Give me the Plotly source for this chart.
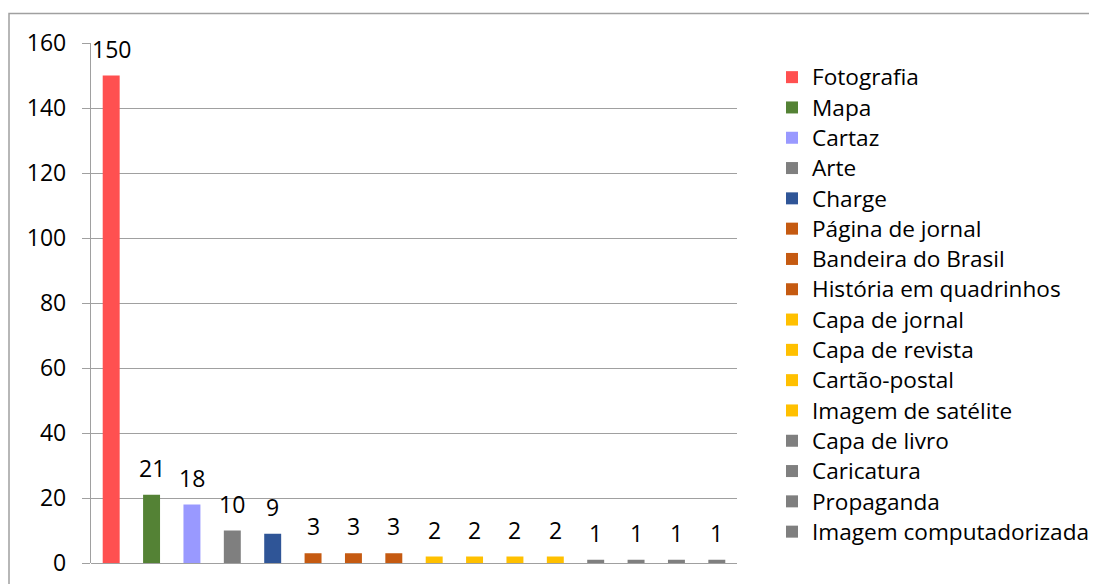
import plotly.graph_objects as go

categories = ["Fotografia", "Mapa", "Cartaz", "Arte", "Charge", "Página de jornal",
              "Bandeira do Brasil", "História em quadrinhos", "Capa de jornal",
              "Capa de revista", "Cartão-postal", "Imagem de satélite", "Capa de livro",
              "Caricatura", "Propaganda", "Imagem computadorizada"]
values = [150, 21, 18, 10, 9, 3, 3, 3, 2, 2, 2, 2, 1, 1, 1, 1]
colors = ["#FF5050", "#548235", "#9999FF", "#7F7F7F", "#2F5597", "#C55A11",
          "#C55A11", "#C55A11", "#FFC000", "#FFC000", "#FFC000", "#FFC000",
          "#7F7F7F", "#7F7F7F", "#7F7F7F", "#7F7F7F"]
y_ticks = [0, 20, 40, 60, 80, 100, 120, 140, 160]

FONT = "Open Sans"
GRID = "#A0A0A0"

W, H = 1089, 576
L, R, T, B = 83, 360, 35, 21
PW, PH = W - L - R, H - T - B

fig = go.Figure()
for cat, val, col in zip(categories, values, colors):
    fig.add_trace(go.Bar(x=[cat], y=[val],
                         name='<span style="font-size:22.6px">' + cat + '</span>',
                         marker_color=col, marker_line_width=0, width=0.42))

annotations = []
for cat, val in zip(categories, values):
    annotations.append(dict(x=cat, y=val, xref="x", yref="y", text=str(val),
                            showarrow=False, yanchor="bottom", yshift=9,
                            font=dict(family=FONT, size=23, color="black")))

fig.update_layout(
    width=W, height=H,
    margin=dict(l=L, r=R, t=T, b=B, autoexpand=False),
    paper_bgcolor="white", plot_bgcolor="white",
    barmode="overlay",
    showlegend=True,
    legend=dict(xref="container", yref="container", x=764 / W, y=1 - 49 / H,
                xanchor="left", yanchor="top", maxheight=560,
                font=dict(family=FONT, size=21, color="black"),
                bgcolor="rgba(0,0,0,0)", tracegroupgap=0),
    xaxis=dict(categoryorder="array", categoryarray=categories,
               range=[-0.5, len(categories) - 0.5], automargin=False,
               showticklabels=False, showgrid=False, zeroline=False,
               showline=False, ticks=""),
    yaxis=dict(range=[0, 160], tickvals=y_ticks, showgrid=True, automargin=False,
               gridcolor=GRID, gridwidth=1.3, zeroline=True, zerolinecolor=GRID,
               zerolinewidth=1.3, showline=True, linecolor=GRID, linewidth=1.3,
               ticks="outside", ticklen=8, tickcolor=GRID, tickwidth=1.3,
               ticklabelstandoff=11, ticklabeloverflow="allow",
               tickfont=dict(family=FONT, size=23, color="black")),
    annotations=annotations,
    shapes=[dict(type="rect", xref="paper", yref="paper",
                 x0=(1 - L) / PW, x1=(W + 10 - L) / PW,
                 y0=-(B + 10) / PH, y1=1 + (T - 5.5) / PH,
                 line=dict(color=GRID, width=1.5), fillcolor="rgba(0,0,0,0)")],
)

fig.write_html("out.html")
